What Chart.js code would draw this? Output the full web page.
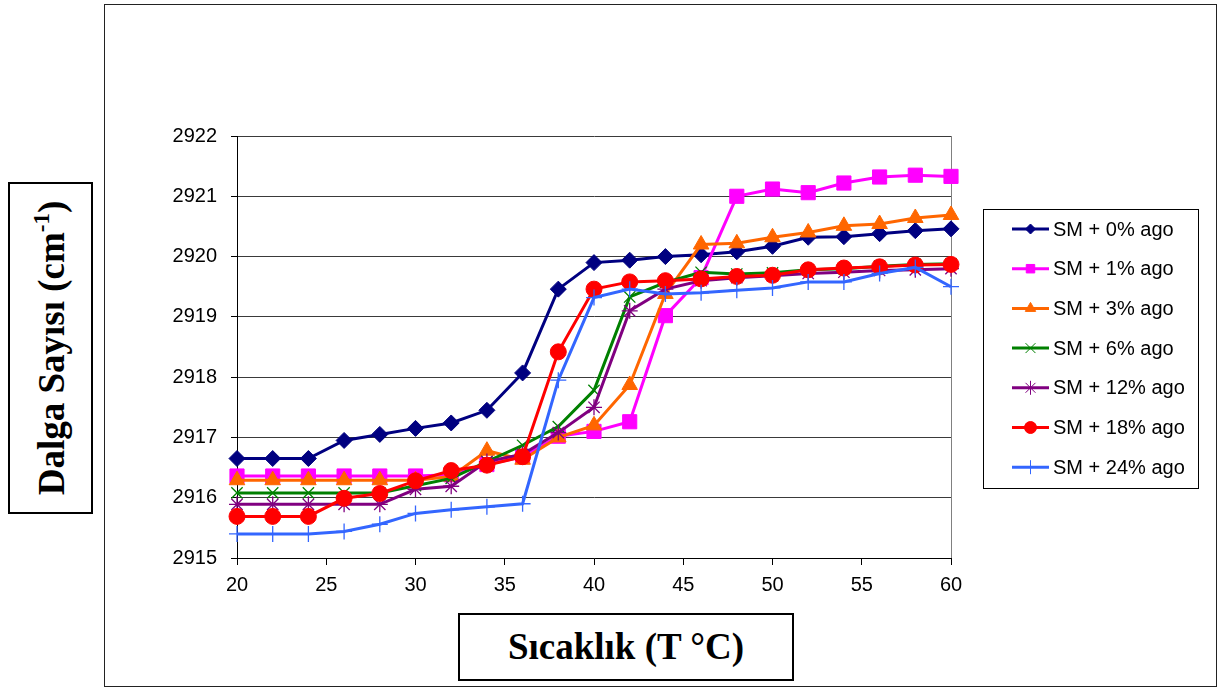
<!DOCTYPE html>
<html>
<head>
<meta charset="utf-8">
<script src="https://cdn.jsdelivr.net/npm/chart.js@4/dist/chart.umd.min.js"></script>
<style>
  html, body { margin: 0; padding: 0; background: #fff; }
  #wrap { position: relative; width: 1223px; height: 691px; overflow: hidden; }
  #frame { position: absolute; left: 104px; top: 4px; width: 1113px; height: 683px; border: 1px solid #222; box-sizing: border-box; }
  canvas { position: absolute; left: 0; top: 0; }
  .tbox { position: absolute; border: 2px solid #000; background: #fff; box-sizing: border-box;
          font-family: "Liberation Serif", "Times New Roman", serif; font-weight: bold; font-size: 37px; color: #000; }
  #ytitle { left: 8px; top: 182px; width: 85px; height: 332px; }
  #ytitle span { position: absolute; left: 50%; top: 50%; white-space: nowrap; transform: translate(-50%, -50%) rotate(-90deg); }
  #xtitle { left: 458px; top: 613px; width: 336px; height: 68px; text-align: center; line-height: 64px; }
  sup { font-size: 23px; vertical-align: 15px; line-height: 0; }
</style>
</head>
<body>
<div id="wrap">
  <div id="frame"></div>
  <canvas id="chart" width="1223" height="691"></canvas>
  <div class="tbox" id="ytitle"><span>Dalga Sayısı (cm<sup>-1</sup>)</span></div>
  <div class="tbox" id="xtitle">Sıcaklık (T °C)</div>
</div>
<script>
document.addEventListener("DOMContentLoaded", function() {
  const temps = [20, 22, 24, 26, 28, 30, 32, 34, 36, 38, 40, 42, 44, 46, 48, 50, 52, 54, 56, 58, 60];

  const sm0 = [2916.65, 2916.65, 2916.65, 2916.95, 2917.05, 2917.15, 2917.24, 2917.45, 2918.07, 2919.46, 2919.90,
               2919.94, 2920.00, 2920.03, 2920.08, 2920.17, 2920.32, 2920.33, 2920.38, 2920.43, 2920.46];
  const sm1 = [2916.36, 2916.36, 2916.36, 2916.36, 2916.36, 2916.36, 2916.38, 2916.55, 2916.68, 2917.02, 2917.10,
               2917.26, 2919.02, 2919.65, 2921.00, 2921.12, 2921.06, 2921.22, 2921.32, 2921.35, 2921.33];
  const sm3 = [2916.29, 2916.29, 2916.29, 2916.29, 2916.29, 2916.29, 2916.35, 2916.78, 2916.63, 2917.00, 2917.20,
               2917.87, 2919.38, 2920.20, 2920.22, 2920.32, 2920.40, 2920.51, 2920.54, 2920.64, 2920.69];
  const sm6 = [2916.08, 2916.08, 2916.08, 2916.08, 2916.08, 2916.20, 2916.32, 2916.60, 2916.87, 2917.18, 2917.78,
               2919.33, 2919.57, 2919.74, 2919.71, 2919.73, 2919.78, 2919.80, 2919.84, 2919.87, 2919.88];
  const sm12 = [2915.89, 2915.89, 2915.89, 2915.89, 2915.89, 2916.14, 2916.19, 2916.60, 2916.72, 2917.08, 2917.50,
                2919.10, 2919.46, 2919.60, 2919.65, 2919.68, 2919.72, 2919.74, 2919.77, 2919.78, 2919.80];
  const sm18 = [2915.69, 2915.69, 2915.69, 2915.99, 2916.07, 2916.28, 2916.45, 2916.54, 2916.68, 2918.42, 2919.46,
                2919.58, 2919.60, 2919.63, 2919.67, 2919.69, 2919.78, 2919.81, 2919.83, 2919.86, 2919.87];
  const sm24 = [2915.40, 2915.40, 2915.40, 2915.44, 2915.56, 2915.74, 2915.80, 2915.85, 2915.90, 2917.95, 2919.32,
                2919.46, 2919.38, 2919.40, 2919.44, 2919.48, 2919.58, 2919.58, 2919.72, 2919.82, 2919.50];

  const seriesNames = ['SM + 0% ago', 'SM + 1% ago', 'SM + 3% ago', 'SM + 6% ago', 'SM + 12% ago', 'SM + 18% ago', 'SM + 24% ago'];
  const seriesValues = [sm0, sm1, sm3, sm6, sm12, sm18, sm24];
  const colors = ['#000080', '#ff00ff', '#ff6600', '#008000', '#800080', '#ff0000', '#3366ff'];
  const markers = ['rectRot', 'rect', 'triangle', 'crossRot', 'star', 'circle', 'cross'];
  const radii = [8, 10, 9, 8, 8, 8, 8];
  const legendRadii = [5, 6, 6, 7, 7, 6, 7];

  const datasets = seriesValues.map(function(vals, i) {
    const open = markers[i] === 'crossRot' || markers[i] === 'star' || markers[i] === 'cross';
    return {
      label: seriesNames[i],
      data: vals.map(function(v, j) { return { x: temps[j], y: v }; }),
      borderColor: colors[i],
      backgroundColor: colors[i],
      borderWidth: 3,
      pointStyle: markers[i],
      pointRadius: radii[i],
      pointHoverRadius: radii[i],
      pointBorderWidth: open ? 1.3 : 1,
      pointBorderColor: colors[i],
      pointBackgroundColor: colors[i],
      tension: 0,
      clip: false,
      order: 6 - i,
    };
  });

  const frameAndLegend = {
    id: 'frameAndLegend',
    beforeDatasetsDraw: function(chart) {
      const ctx = chart.ctx, a = chart.chartArea;
      ctx.save();
      ctx.strokeStyle = '#808080';
      ctx.lineWidth = 1;
      ctx.beginPath();
      ctx.moveTo(Math.round(a.right) + 0.5, a.top);
      ctx.lineTo(Math.round(a.right) + 0.5, a.bottom);
      ctx.stroke();
      ctx.restore();
    },
    afterDraw: function(chart) {
      const ctx = chart.ctx;
      const bx = 983, by = 209, bw = 215, bh = 279;
      ctx.save();
      ctx.fillStyle = '#fff';
      ctx.fillRect(bx, by, bw, bh);
      ctx.strokeStyle = '#000';
      ctx.lineWidth = 1;
      ctx.strokeRect(bx + 0.5, by + 0.5, bw, bh);
      ctx.font = '20px "Liberation Sans", Arial, sans-serif';
      ctx.textBaseline = 'middle';
      ctx.textAlign = 'left';
      chart.data.datasets.forEach(function(ds, i) {
        const y = 229 + i * 39.7;
        ctx.strokeStyle = ds.borderColor;
        ctx.lineWidth = 3;
        ctx.beginPath();
        ctx.moveTo(1012, y);
        ctx.lineTo(1049, y);
        ctx.stroke();
        ctx.fillStyle = ds.borderColor;
        ctx.lineWidth = 1;
        Chart.helpers.drawPoint(ctx, { pointStyle: ds.pointStyle, radius: legendRadii[i], rotation: 0, borderWidth: 1 }, 1030.5, y);
        ctx.fillStyle = '#000';
        ctx.fillText(ds.label, 1053, y + 1);
      });
      ctx.restore();
    }
  };

  const ctx = document.getElementById('chart');
  window.myChart = new Chart(ctx, {
    type: 'line',
    data: { datasets: datasets },
    options: {
      responsive: false,
      animation: false,
      events: [],
      layout: { padding: { left: 0, right: 272, top: 136, bottom: 0 } },
      plugins: { legend: { display: false }, tooltip: { enabled: false } },
      scales: {
        x: {
          type: 'linear',
          min: 20, max: 60,
          afterFit: function(s) { s.height = 691 - 558; },
          ticks: { stepSize: 5, padding: 8, color: '#000', font: { family: '"Liberation Sans", Arial, sans-serif', size: 20 },
                   callback: function(v) { return String(v); } },
          grid: { drawOnChartArea: false, drawTicks: true, tickLength: 7, tickColor: '#000' },
          border: { color: '#000', width: 1 },
        },
        y: {
          min: 2915, max: 2922,
          afterFit: function(s) { s.width = 237; },
          ticks: { stepSize: 1, padding: 14, color: '#000', font: { family: '"Liberation Sans", Arial, sans-serif', size: 20 },
                   callback: function(v) { return String(v); } },
          grid: { color: '#3a3a3a', lineWidth: 1, drawTicks: true, tickLength: 6, tickColor: '#000' },
          border: { color: '#000', width: 1 },
        },
      },
    },
    plugins: [frameAndLegend],
  });
});
</script>
</body>
</html>
